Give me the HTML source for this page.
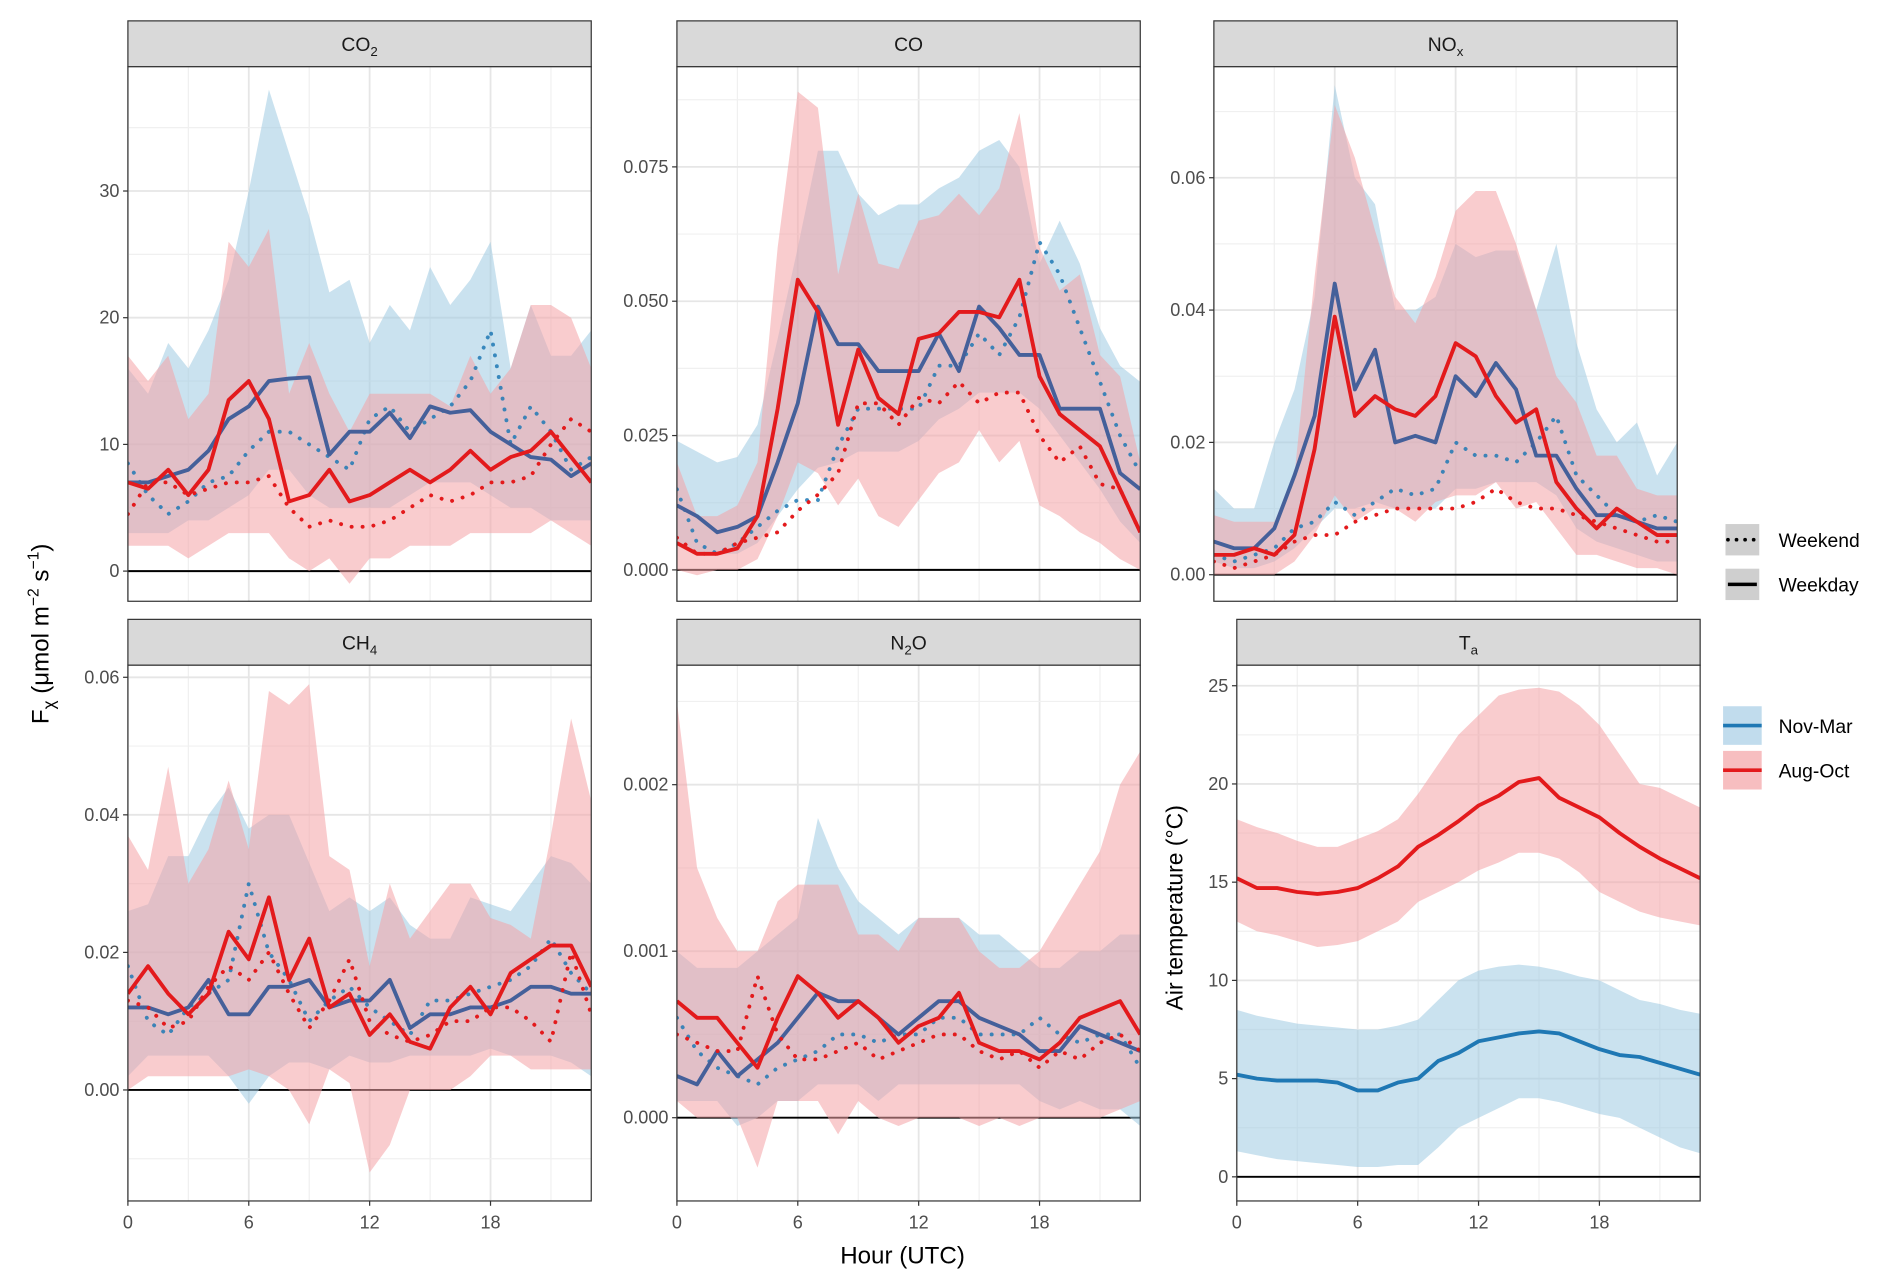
<!DOCTYPE html>
<html><head><meta charset="utf-8"><style>
body{margin:0;background:#fff}
svg{display:block;font-family:"Liberation Sans",sans-serif}
</style></head><body>
<svg id="chart" width="1892" height="1287" viewBox="0 0 1568 1066" xmlns="http://www.w3.org/2000/svg">
<text transform="translate(40,525) rotate(-90)" text-anchor="middle" font-size="20" fill="#000">F<tspan font-size="14" dy="5">χ</tspan><tspan dy="-5"> (μmol m</tspan><tspan font-size="13" dy="-8">−2</tspan><tspan dy="8"> s</tspan><tspan font-size="13" dy="-8">−1</tspan><tspan dy="8">)</tspan></text>
<text transform="translate(980,752) rotate(-90)" text-anchor="middle" font-size="19" fill="#000">Air temperature (°C)</text>
<text x="748" y="1047" text-anchor="middle" font-size="20" fill="#000">Hour (UTC)</text>
<g>
<rect x="1430" y="434" width="28" height="26" fill="#cfcfcf"/><line x1="1432" y1="447" x2="1456" y2="447" stroke="#000" stroke-width="3" stroke-dasharray="0.1 7" stroke-linecap="round"/>
<text x="1474" y="453" font-size="16">Weekend</text>
<rect x="1430" y="471" width="28" height="26" fill="#cfcfcf"/><line x1="1432" y1="484" x2="1456" y2="484" stroke="#000" stroke-width="3"/>
<text x="1474" y="490" font-size="16">Weekday</text>
</g>
<g>
<rect x="1428" y="585" width="32" height="32" fill="#a6cde6" opacity="0.7"/><line x1="1428" y1="601" x2="1460" y2="601" stroke="#1f78b4" stroke-width="3"/>
<text x="1474" y="607" font-size="16">Nov-Mar</text>
<rect x="1428" y="622" width="32" height="32" fill="#f4a3a5" opacity="0.7"/><line x1="1428" y1="638" x2="1460" y2="638" stroke="#e31a1c" stroke-width="3"/>
<text x="1474" y="644" font-size="16">Aug-Oct</text>
</g>
</svg>
<script>
const hours=[0,1,2,3,4,5,6,7,8,9,10,11,12,13,14,15,16,17,18,19,20,21,22,23];
const xTicks=[0,6,12,18];
const co2BlueWd=[7,7,7.5,8,9.5,12,13,15,15.2,15.3,9.2,11,11,12.5,10.5,13,12.5,12.7,11,10,9,8.8,7.5,8.5];
const co2RedWd=[7,6.5,8,6,8,13.5,15,12,5.5,6,8,5.5,6,7,8,7,8,9.5,8,9,9.5,11,9,7];
const co2BlueWe=[8.5,6,4.5,5.5,7,7.5,9.5,11,11,10,9,8,12,13,11,12,13,15,19,10,13,11,8,9];
const co2RedWe=[4.5,7,7,6,6.5,7,7,7.5,5,3.5,4,3.5,3.5,4,5,6,5.5,6,7,7,7.5,10,12,11];
const co2BlueHi=[16,14,18,16,19,23,30,38,33,28,22,23,18,21,19,24,21,23,26,16,21,17,17,19];
const co2BlueLo=[3,3,3,4,4,5,6,8,8,6,5,5,5,5,6,7,7,7,6,5,5,4,4,4];
const co2RedHi=[17,15,17,12,14,26,24,27,14,18,14,11,14,14,14,14,13,17,14,16,21,21,20,16];
const co2RedLo=[2,2,2,1,2,3,3,3,1,0,1,-1,1,1,2,2,2,3,3,3,3,4,3,2];
const co2Ticks=[0,10,20,30];
const coBlueWd=[12,10,7,8,10,20,31,49,42,42,37,37,37,44,37,49,45,40,40,30,30,30,18,15];
const coRedWd=[5,3,3,4,10,30,54,48,27,41,32,29,43,44,48,48,47,54,36,29,26,23,15,7];
const coBlueWe=[15,5,3,5,8,11,13,13,23,30,30,30,30,38,38,44,40,47,61,55,45,35,25,18];
const coRedWe=[6,3,3,5,6,7,11,14,18,31,31,27,32,31,35,31,33,33,25,20,23,16,15,7];
const coBlueHi=[24,22,20,21,27,43,60,78,78,70,66,68,68,71,73,78,80,75,57,65,57,45,38,35];
const coBlueLo=[5,3,3,3,5,10,15,19,20,22,22,22,24,28,30,33,33,33,30,25,20,15,9,5];
const coRedHi=[20,10,10,12,20,60,89,86,55,70,57,56,65,66,70,66,71,85,60,52,55,40,36,20];
const coRedLo=[0,-1,0,0,2,10,20,18,12,17,10,8,13,18,20,26,20,24,12,10,7,5,2,0];
const coTicks=[0,25,50,75];
const noxBlueWd=[5,4,4,7,15,24,44,28,34,20,21,20,30,27,32,28,18,18,13,9,9,8,7,7];
const noxRedWd=[3,3,4,3,6,19,39,24,27,25,24,27,35,33,27,23,25,14,10,7,10,8,6,6];
const noxBlueWe=[3,2,3,4,7,8,11,9,11,13,12,13,20,18,18,17,20,24,15,12,9,8,9,8];
const noxRedWe=[2,1,2,3,5,6,6,8,9,10,10,10,10,11,13,11,10,10,9,8,7,6,5,5];
const noxBlueHi=[13,10,10,20,28,42,74,60,56,40,40,42,50,48,49,49,40,50,35,25,20,23,15,20];
const noxBlueLo=[2,1,1,2,4,7,10,10,11,10,10,10,13,13,14,14,14,12,7,5,4,3,2,2];
const noxRedHi=[9,8,8,8,15,45,71,63,52,42,38,45,55,58,58,50,40,30,26,18,18,13,12,12];
const noxRedLo=[0,0,0,0,2,6,12,8,10,10,8,11,12,12,14,10,11,7,3,3,2,1,1,0];
const noxTicks=[0,20,40,60];
const ch4BlueWd=[12,12,11,12,16,11,11,15,15,16,12,13,13,16,9,11,11,12,12,13,15,15,14,14];
const ch4RedWd=[14,18,14,11,14,23,19,28,16,22,12,14,8,11,7,6,12,15,11,17,19,21,21,15];
const ch4BlueWe=[18,10,8,12,14,16,30,20,16,10,13,15,12,10,8,13,13,14,15,16,18,22,17,14];
const ch4RedWe=[13,12,9,10,15,18,16,20,14,9,13,19,10,8,7,8,10,10,12,12,10,7,20,11];
const ch4BlueHi=[26,27,34,34,40,44,38,40,40,33,26,28,26,28,24,22,22,28,27,26,30,34,33,30];
const ch4BlueLo=[2,5,5,5,5,2,-2,2,4,4,3,5,4,4,5,5,5,5,6,5,5,5,4,2];
const ch4RedHi=[37,32,47,30,35,45,35,58,56,59,34,32,18,30,22,26,30,30,25,24,22,37,54,42];
const ch4RedLo=[0,2,2,2,2,2,3,2,0,-5,3,1,-12,-8,0,0,0,2,5,5,3,3,3,3];
const ch4Ticks=[0,20,40,60];
const n2oBlueWd=[2.5,2,4,2.5,3.5,4.5,6,7.5,7,7,6,5,6,7,7,6,5.5,5,4,4,5.5,5,4.5,4];
const n2oRedWd=[7,6,6,4.5,3,6,8.5,7.5,6,7,6,4.5,5.5,6,7.5,4.5,4,4,3.5,4.5,6,6.5,7,5];
const n2oBlueWe=[6,4,3,2.5,2,3,3.5,4,5,5,4.5,5,5,6,6,5,5,5,6,5,4.5,5,5,3];
const n2oRedWe=[5,4.5,4,4,8.5,5,3.5,3.5,4,4.5,3.5,4,4.5,5,5,4,3.5,4,3,4,3.5,4.5,5,4];
const n2oBlueHi=[10,9,9,9,10,11,12,18,15,13,12,11,12,12,12,11,11,10,9,9,10,10,11,11];
const n2oBlueLo=[1,1,1,-0.5,0,1,1,2,2,2,1,2,2,2,2,2,2,2,1,0.5,1,0.5,0.5,-0.5];
const n2oRedHi=[25,15,12,10,10,13,14,14,14,11,11,10,12,12,12,10,9,9,10,12,14,16,20,22];
const n2oRedLo=[1,0,0,0,-3,1,1,1,-1,1,0,-0.5,0,0,0,-0.5,0,-0.5,0,0,0,0,0.5,1];
const n2oTicks=[0,10,20];
const taBlue=[5.2,5,4.9,4.9,4.9,4.8,4.4,4.4,4.8,5,5.9,6.3,6.9,7.1,7.3,7.4,7.3,6.9,6.5,6.2,6.1,5.8,5.5,5.2];
const taRed=[15.2,14.7,14.7,14.5,14.4,14.5,14.7,15.2,15.8,16.8,17.4,18.1,18.9,19.4,20.1,20.3,19.3,18.8,18.3,17.5,16.8,16.2,15.7,15.2];
const taBlueHi=[8.5,8.2,8,7.8,7.7,7.6,7.5,7.5,7.7,8,9,10,10.5,10.7,10.8,10.7,10.5,10.2,10,9.5,9,8.8,8.5,8.3];
const taBlueLo=[1.3,1.1,0.9,0.8,0.7,0.6,0.5,0.5,0.6,0.6,1.5,2.5,3,3.5,4,4,3.8,3.5,3.2,3,2.5,2,1.5,1.2];
const taRedHi=[18.2,17.8,17.5,17.1,16.8,16.8,17.2,17.6,18.2,19.5,21,22.5,23.5,24.5,24.8,24.9,24.7,24,23,21.5,20,19.8,19.3,18.8];
const taRedLo=[13,12.5,12.3,12,11.7,11.8,12,12.5,13,14,14.5,15,15.6,16,16.5,16.5,16.2,15.5,14.5,14,13.5,13.2,13,12.8];
const taTicks=[0,5,10,15,20,25];

const NS="http://www.w3.org/2000/svg";
const svg=document.getElementById('chart');
function mk(tag,attrs,parent){const e=document.createElementNS(NS,tag);for(const k in attrs)e.setAttribute(k,attrs[k]);(parent||svg).appendChild(e);return e;}

function panel(o){
  const g=mk('g',{});
  
  
  const L=o.x,R=o.x+384,T=o.top,B=o.bottom;
  const xs=h=>L+h*(R-L)/23;
  const ys=v=>o.y0+(v-o.v0)*(o.y1-o.y0)/(o.v1-o.v0);
  const st=mk('rect',{x:L,y:T-38,width:R-L,height:38,fill:'#d9d9d9',stroke:'#333','stroke-width':1},g);
  
  
  const tt=mk('text',{x:(L+R)/2,y:T-13,'text-anchor':'middle','font-size':16,fill:'#1a1a1a'},g);
  tt.innerHTML=o.title;
  
  
  mk('rect',{x:L,y:T,width:R-L,height:B-T,fill:'#fff'},g);
  for(let h=3;h<23;h+=6)mk('line',{x1:xs(h),x2:xs(h),y1:T,y2:B,stroke:'#f0f0f0','stroke-width':1},g);
  for(const h of xTicks)mk('line',{x1:xs(h),x2:xs(h),y1:T,y2:B,stroke:'#e6e6e6','stroke-width':1.5},g);
  const step=o.ticks[1]-o.ticks[0];
  for(let v=o.ticks[0]-step*1.5;v<=o.ticks[o.ticks.length-1]+step*1.5;v+=step){const y=ys(v);if(y>T&&y<B)mk('line',{x1:L,x2:R,y1:y,y2:y,stroke:'#f0f0f0','stroke-width':1},g);}
  o.ticks.forEach((v,i)=>{const y=ys(v);if(y<T||y>B)return;mk('line',{x1:L,x2:R,y1:y,y2:y,stroke:'#e6e6e6','stroke-width':1.5},g);
    mk('line',{x1:L-4,x2:L,y1:y,y2:y,stroke:'#333'},g);
    const t=mk('text',{x:L-7,y:y+5,'text-anchor':'end','font-size':15,fill:'#4d4d4d'},g);t.textContent=o.labels[i];
    
    });
  mk('line',{x1:L,x2:R,y1:ys(0),y2:ys(0),stroke:'#000','stroke-width':1.6},g);
  const clip=mk('clipPath',{id:'c'+o.name},g);mk('rect',{x:L,y:T,width:R-L,height:B-T},clip);
  const d=mk('g',{'clip-path':'url(#c'+o.name+')'},g);
  function ribbon(hi,lo,fill,nm){let p='M'+hours.map(h=>xs(h)+','+ys(hi[h])).join('L');for(let i=23;i>=0;i--)p+='L'+xs(hours[i])+','+ys(lo[i]);
    const e=mk('path',{d:p+'Z',fill:fill,opacity:0.55},d);
    
    }
  function line(vals,col,dotted,nm,op){const e=mk('path',{d:'M'+hours.map(h=>xs(h)+','+ys(vals[h])).join('L'),fill:'none',stroke:col,'stroke-width':3.2,opacity:op||1,'stroke-linejoin':'round','stroke-linecap':dotted?'round':'butt','stroke-dasharray':dotted?'0.1 9':'none'},d);
    
    }
  ribbon(o.bHi,o.bLo,'#9ecae1','nov-mar-ribbon');
  ribbon(o.rHi,o.rLo,'#f4a3a5','aug-oct-ribbon');
  if(o.bWe)line(o.bWe,'#1f78b4',true,'nov-mar-weekend-line',0.85);
  line(o.bWd,o.bWe?'#45609a':'#1f78b4',false,'nov-mar-weekday-line');
  if(o.rWe)line(o.rWe,'#e31a1c',true,'aug-oct-weekend-line');
  line(o.rWd,'#e31a1c',false,'aug-oct-weekday-line');
  mk('rect',{x:L,y:T,width:R-L,height:B-T,fill:'none',stroke:'#333','stroke-width':1},g);
  if(o.xlab){for(const h of xTicks){mk('line',{x1:xs(h),x2:xs(h),y1:B,y2:B+4,stroke:'#333'},g);
    const t=mk('text',{x:xs(h),y:B+23,'text-anchor':'middle','font-size':15,fill:'#4d4d4d'},g);t.textContent=h;
    
    }}
}
panel({name:'co2',title:'CO<tspan font-size="11" dy="4">2</tspan>',x:106,top:55,bottom:498,v0:0,y0:473,v1:30,y1:158,ticks:co2Ticks,labels:['0','10','20','30'],bWd:co2BlueWd,rWd:co2RedWd,bWe:co2BlueWe,rWe:co2RedWe,bHi:co2BlueHi,bLo:co2BlueLo,rHi:co2RedHi,rLo:co2RedLo});
panel({name:'co',title:'CO',x:561,top:55,bottom:498,v0:0,y0:472,v1:75,y1:138,ticks:coTicks,labels:['0.000','0.025','0.050','0.075'],bWd:coBlueWd,rWd:coRedWd,bWe:coBlueWe,rWe:coRedWe,bHi:coBlueHi,bLo:coBlueLo,rHi:coRedHi,rLo:coRedLo});
panel({name:'nox',title:'NO<tspan font-size="11" dy="4">x</tspan>',x:1006,top:55,bottom:498,v0:0,y0:476,v1:60,y1:147,ticks:noxTicks,labels:['0.00','0.02','0.04','0.06'],bWd:noxBlueWd,rWd:noxRedWd,bWe:noxBlueWe,rWe:noxRedWe,bHi:noxBlueHi,bLo:noxBlueLo,rHi:noxRedHi,rLo:noxRedLo});
panel({name:'ch4',title:'CH<tspan font-size="11" dy="4">4</tspan>',x:106,top:551,bottom:995,xlab:true,v0:0,y0:903,v1:60,y1:561,ticks:ch4Ticks,labels:['0.00','0.02','0.04','0.06'],bWd:ch4BlueWd,rWd:ch4RedWd,bWe:ch4BlueWe,rWe:ch4RedWe,bHi:ch4BlueHi,bLo:ch4BlueLo,rHi:ch4RedHi,rLo:ch4RedLo});
panel({name:'n2o',title:'N<tspan font-size="11" dy="4">2</tspan><tspan dy="-4">O</tspan>',x:561,top:551,bottom:995,xlab:true,v0:0,y0:926,v1:20,y1:650,ticks:n2oTicks,labels:['0.000','0.001','0.002'],bWd:n2oBlueWd,rWd:n2oRedWd,bWe:n2oBlueWe,rWe:n2oRedWe,bHi:n2oBlueHi,bLo:n2oBlueLo,rHi:n2oRedHi,rLo:n2oRedLo});
panel({name:'ta',title:'T<tspan font-size="11" dy="4">a</tspan>',x:1025,top:551,bottom:995,xlab:true,v0:0,y0:975,v1:25,y1:568,ticks:taTicks,labels:['0','5','10','15','20','25'],bWd:taBlue,rWd:taRed,bHi:taBlueHi,bLo:taBlueLo,rHi:taRedHi,rLo:taRedLo});
</script>
</body></html>
